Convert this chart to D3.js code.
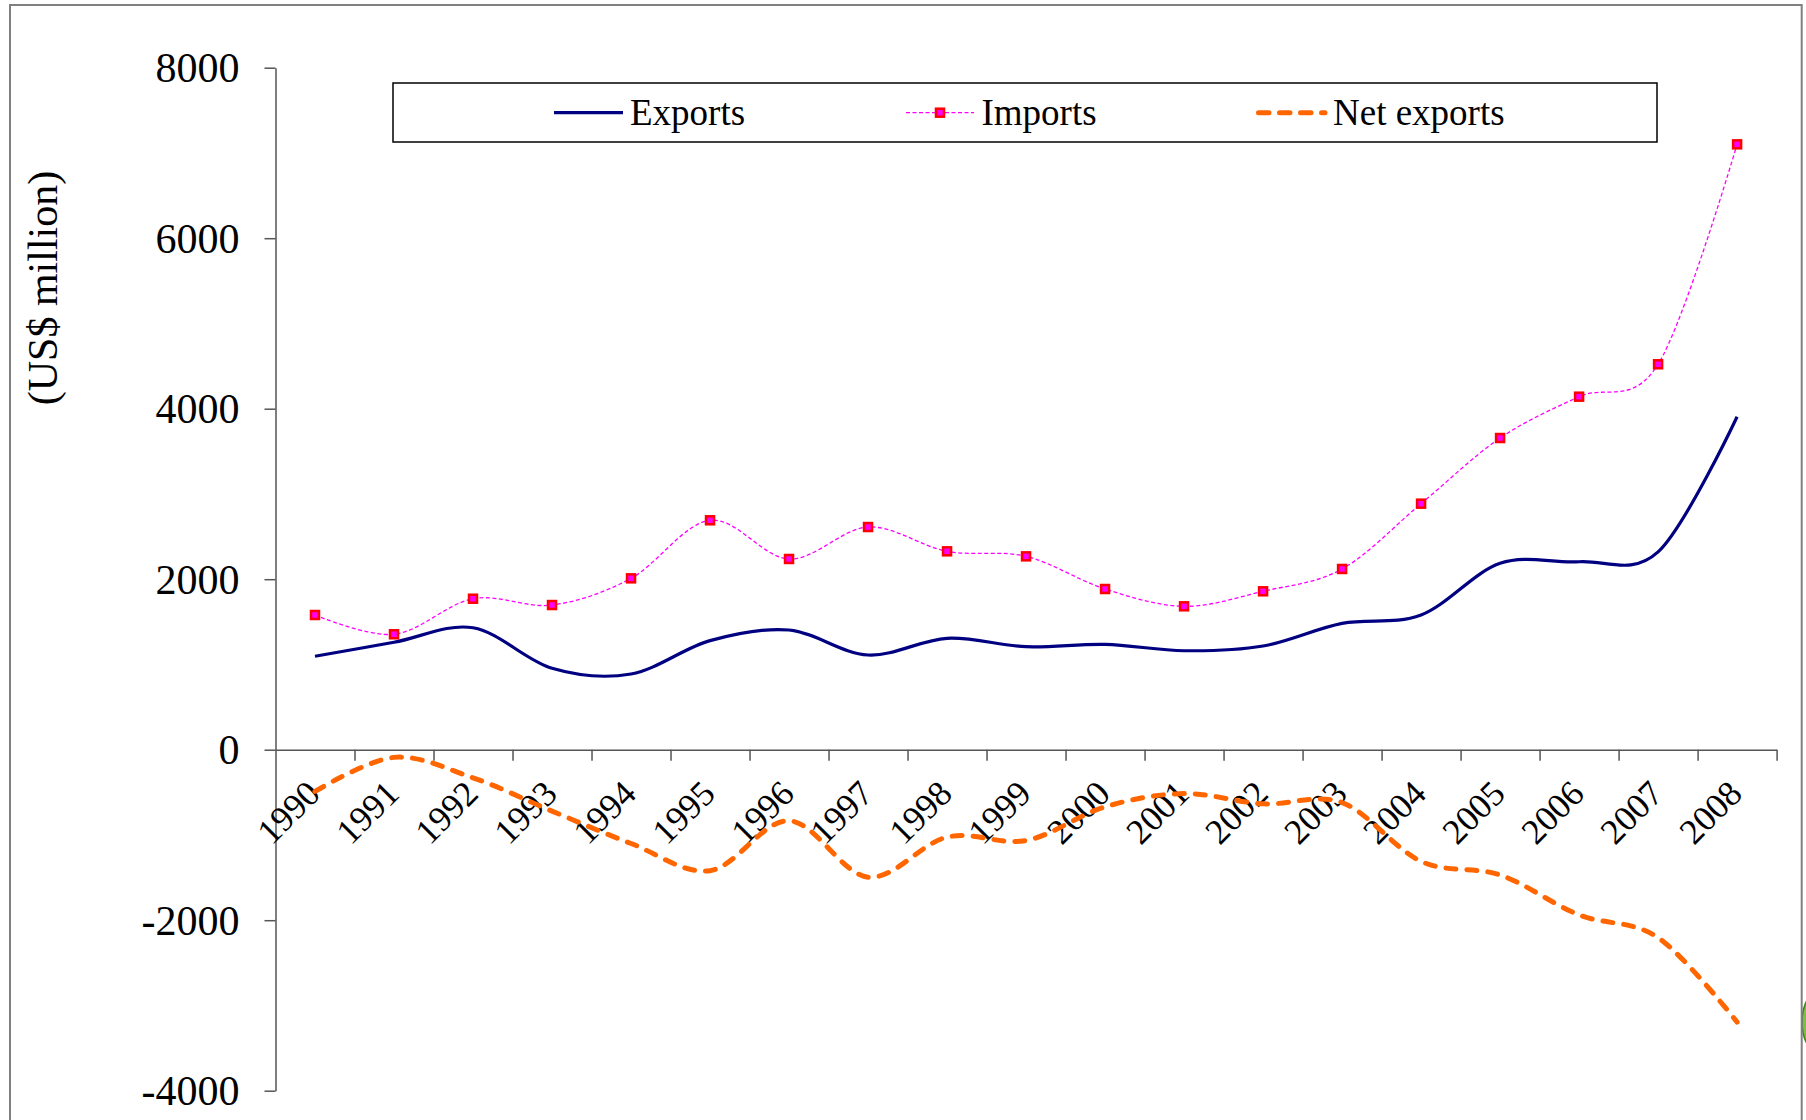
<!DOCTYPE html>
<html>
<head>
<meta charset="utf-8">
<script src="https://cdn.jsdelivr.net/npm/d3@7"></script>
<style>
  body { margin: 0; background: #fff; }
  svg { display: block; font-family: "Liberation Serif", "Times New Roman", serif; }
  .axis path, .axis line { stroke: #555; stroke-width: 1.5; }
  .axis text { font-size: 42px; fill: #000; font-family: "Liberation Serif", serif; }
</style>
</head>
<body>
<script>
// Chart data (US$ million)
var years = ["1990", "1991", "1992", "1993", "1994", "1995", "1996", "1997", "1998", "1999",
             "2000", "2001", "2002", "2003", "2004", "2005", "2006", "2007", "2008"];

var exportsData = [1096, 1260, 1430, 955, 888, 1279, 1404, 1111, 1307, 1208,
                   1236, 1161, 1216, 1482, 1580, 2186, 2205, 2320, 3906];

var importsData = [1580, 1354, 1771, 1697, 2010, 2691, 2237, 2612, 2327, 2268,
                   1885, 1682, 1858, 2120, 2886, 3656, 4141, 4521, 7101];

var netExportsData = [-490, -90, -330, -720, -1100, -1419, -833, -1495, -1025, -1065,
                      -670, -515, -635, -620, -1310, -1470, -1938, -2205, -3195];

var yTicks = [-4000, -2000, 0, 2000, 4000, 6000, 8000];

var seriesNames = ["Exports", "Imports", "Net exports"];

// Set margin, width and height
var W = 1806, H = 1120;
var margin = {top: 67.7, right: 29.4, bottom: 29.3, left: 275.5},
    width = W - margin.left - margin.right,
    height = H - margin.top - margin.bottom;

var svg = d3.select("body")
    .append("svg")
    .attr("width", W)
    .attr("height", H);

svg.append("rect").attr("width", W).attr("height", H).attr("fill", "#fff");

// green blob sticking in at the right edge
svg.append("ellipse")
    .attr("cx", 1822).attr("cy", 1022)
    .attr("rx", 20).attr("ry", 33)
    .attr("fill", "#7ac143")
    .attr("stroke", "#3d7d1c")
    .attr("stroke-width", 1.5);

// outer frame
svg.append("rect")
    .attr("x", 10).attr("y", 5)
    .attr("width", 1791.7).attr("height", 1140)
    .attr("fill", "none")
    .attr("stroke", "#808080")
    .attr("stroke-width", 2);

var chart = svg.append("g")
    .attr("transform", "translate(" + margin.left + "," + margin.top + ")");

// Scales
var xScale = d3.scaleBand()
    .domain(years)
    .range([0, width]);

var xIdx = d3.scaleLinear()
    .domain([0, years.length])
    .range([0, width]);

var yScale = d3.scaleLinear()
    .domain([-4000, 8000])
    .range([height, 0]);

function cx(d, i) { return xScale(years[i]) + xScale.bandwidth() / 2; }

// Axes
var yAxis = d3.axisLeft(yScale)
    .tickValues(yTicks)
    .tickSize(11)
    .tickSizeOuter(0)
    .tickPadding(25)
    .tickFormat(function(d) { return String(d); });

chart.append("g")
    .attr("class", "y axis")
    .call(yAxis)
    .selectAll("text")
    .attr("dy", "0.34em");

var xAxis = d3.axisBottom(xIdx)
    .tickValues(d3.range(1, years.length + 1))
    .tickSize(11)
    .tickSizeOuter(0)
    .tickFormat("");

chart.append("g")
    .attr("class", "x axis")
    .attr("transform", "translate(0," + yScale(0) + ")")
    .call(xAxis);

// rotated year labels
chart.append("g")
    .attr("class", "x-labels")
    .selectAll("text")
    .data(years)
    .enter()
    .append("text")
    .attr("transform", function(d, i) {
        return "translate(" + (cx(d, i) + 7) + "," + (yScale(0) + 46) + ") rotate(-45)";
    })
    .attr("text-anchor", "end")
    .style("font-size", "35.5px")
    .text(function(d) { return d; });

// y axis title
svg.append("text")
    .attr("transform", "translate(57,288) rotate(-90)")
    .attr("text-anchor", "middle")
    .style("font-size", "42px")
    .text("(US$ million)");

// Lines
var line = d3.line()
    .x(cx)
    .y(function(d) { return yScale(d); })
    .curve(d3.curveCardinal.tension(0));

chart.append("path")
    .datum(exportsData)
    .attr("fill", "none")
    .attr("stroke", "#000080")
    .attr("stroke-width", 3.2)
    .attr("d", line);

chart.append("path")
    .datum(importsData)
    .attr("fill", "none")
    .attr("stroke", "#ff00ff")
    .attr("stroke-width", 1.3)
    .attr("stroke-dasharray", "4,2.5")
    .attr("d", line);

chart.append("path")
    .datum(netExportsData)
    .attr("fill", "none")
    .attr("stroke", "#ff6600")
    .attr("stroke-width", 5)
    .attr("stroke-linecap", "round")
    .attr("stroke-dasharray", "10,11")
    .attr("d", line);

chart.selectAll(".marker")
    .data(importsData)
    .enter()
    .append("rect")
    .attr("class", "marker")
    .attr("x", function(d, i) { return cx(d, i) - 4; })
    .attr("y", function(d) { return yScale(d) - 4; })
    .attr("width", 8)
    .attr("height", 8)
    .attr("fill", "#ff00ff")
    .attr("stroke", "#ff0000")
    .attr("stroke-width", 2.5);

// Legend
var legend = svg.append("g").attr("class", "legend");

legend.append("rect")
    .attr("x", 393).attr("y", 83)
    .attr("width", 1264).attr("height", 59)
    .attr("fill", "#fff")
    .attr("stroke", "#000")
    .attr("stroke-width", 1.5);

var legY = 112.7;

legend.append("line")
    .attr("x1", 554).attr("x2", 623)
    .attr("y1", legY).attr("y2", legY)
    .attr("stroke", "#000080")
    .attr("stroke-width", 3.2);

legend.append("line")
    .attr("x1", 906).attr("x2", 974)
    .attr("y1", legY).attr("y2", legY)
    .attr("stroke", "#ff00ff")
    .attr("stroke-width", 1.3)
    .attr("stroke-dasharray", "4,2.5");

legend.append("rect")
    .attr("x", 936).attr("y", legY - 4)
    .attr("width", 8).attr("height", 8)
    .attr("fill", "#ff00ff")
    .attr("stroke", "#ff0000")
    .attr("stroke-width", 2.5);

legend.append("line")
    .attr("x1", 1258.5).attr("x2", 1325)
    .attr("y1", legY).attr("y2", legY)
    .attr("stroke", "#ff6600")
    .attr("stroke-width", 5)
    .attr("stroke-linecap", "round")
    .attr("stroke-dasharray", "10.5,10.5");

var legTextX = [630, 981.5, 1333];

legend.selectAll(".leg-label")
    .data(seriesNames)
    .enter()
    .append("text")
    .attr("class", "leg-label")
    .attr("x", function(d, i) { return legTextX[i]; })
    .attr("y", legY)
    .attr("dy", "0.33em")
    .style("font-size", "37px")
    .text(function(d) { return d; });
</script>
</body>
</html>
